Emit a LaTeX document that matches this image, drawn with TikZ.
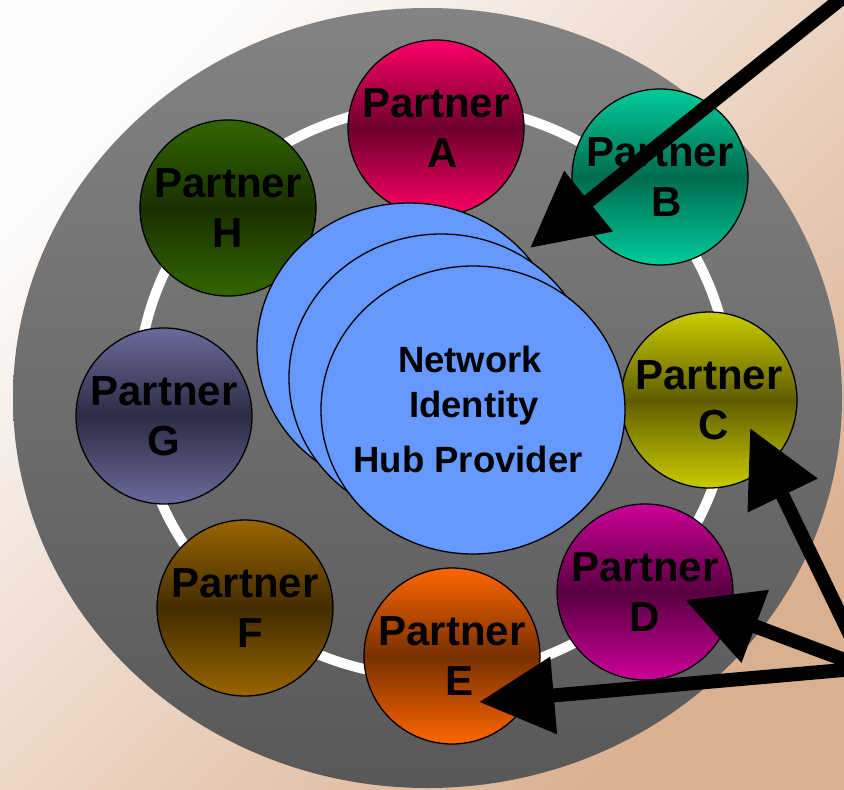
\documentclass[tikz,border=0pt]{standalone}
\usepackage{fontspec}
\setmainfont{Liberation Sans}
\usetikzlibrary{shapes.geometric,arrows.meta,calc}
\definecolor{bgA}{HTML}{FCFBFA}
\definecolor{bgB}{HTML}{DBB08F}
\definecolor{grayTop}{HTML}{838383}
\definecolor{grayBot}{HTML}{585858}
\definecolor{hubBlue}{HTML}{6699FF}
\definecolor{Abr}{HTML}{FF0066}\definecolor{Adk}{HTML}{6E002E}
\definecolor{Bbr}{HTML}{00CC99}\definecolor{Bdk}{HTML}{006B50}
\definecolor{Cbr}{HTML}{CCCC00}\definecolor{Cdk}{HTML}{5E5E00}
\definecolor{Dbr}{HTML}{CC0099}\definecolor{Ddk}{HTML}{580040}
\definecolor{Ebr}{HTML}{FF6600}\definecolor{Edk}{HTML}{773000}
\definecolor{Fbr}{HTML}{996600}\definecolor{Fdk}{HTML}{432C00}
\definecolor{Gbr}{HTML}{6A6A9C}\definecolor{Gdk}{HTML}{2C2C44}
\definecolor{Hbr}{HTML}{336600}\definecolor{Hdk}{HTML}{183000}
\begin{document}
\begin{tikzpicture}[x=1pt,y=-1pt,
  partner/.style={circle, draw=black, line width=1.3pt, minimum size=176pt,
    inner sep=0pt, align=center, font=\fontsize{42}{50}\selectfont\bfseries},
  hub/.style={ellipse, draw=black, line width=1.3pt, fill=hubBlue,
    minimum width=304pt, minimum height=288pt, inner sep=0pt},
  hubtxt/.style={anchor=base, inner sep=0pt, font=\fontsize{36.5}{44}\selectfont\bfseries},
  bigarrow/.style={line width=14pt, draw=black, -{Triangle[length=75pt,width=74pt]}},
]
\useasboundingbox (0,0) rectangle (844,790);
\clip (0,0) rectangle (844,790);
\shade[top color=bgA, bottom color=bgB, shading angle=45] (0,0) rectangle (844,790);

\node[ellipse, minimum width=829pt, minimum height=780pt, inner sep=0pt,
      top color=grayTop, bottom color=grayBot] (disc) at (427.5,398) {};
\node[ellipse, draw=white, line width=10pt, minimum width=592pt,
      minimum height=572pt, inner sep=0pt] (ring) at (434,391) {};

\node[partner, top color=Abr, bottom color=Abr, middle color=Adk] (pA) at (436,128) {Partner\\\hspace*{14pt}A};
\node[partner, top color=Bbr, bottom color=Bbr, middle color=Bdk] (pB) at (660,177) {Partner\\\hspace*{14pt}B};
\node[partner, top color=Cbr, bottom color=Cbr, middle color=Cdk] (pC) at (709,400) {Partner\\\hspace*{10pt}C};
\node[partner, top color=Dbr, bottom color=Dbr, middle color=Ddk] (pD) at (645,592) {Partner\\D};
\node[partner, top color=Ebr, bottom color=Ebr, middle color=Edk] (pE) at (452,656) {Partner\\\hspace*{16pt}E};
\node[partner, top color=Fbr, bottom color=Fbr, middle color=Fdk] (pF) at (245,608) {Partner\\\hspace*{10pt}F};
\node[partner, top color=Gbr, bottom color=Gbr, middle color=Gdk] (pG) at (164,416) {Partner\\G};
\node[partner, top color=Hbr, bottom color=Hbr, middle color=Hdk] (pH) at (228,208) {Partner\\H};

\node[hub] (hub1) at (409,347) {};
\node[hubtxt] (hub1a) at ($(hub1.center)+(-3,-38)$) {Network};
\node[hubtxt] (hub1b) at ($(hub1.center)+(1,7)$) {Identity};
\node[hubtxt] (hub1c) at ($(hub1.center)+(-5,62)$) {Hub Provider};

\node[hub] (hub2) at (441,378) {};
\node[hubtxt] (hub2a) at ($(hub2.center)+(-3,-38)$) {Network};
\node[hubtxt] (hub2b) at ($(hub2.center)+(1,7)$) {Identity};
\node[hubtxt] (hub2c) at ($(hub2.center)+(-5,62)$) {Hub Provider};

\node[hub] (hub3) at (473,410) {};
\node[hubtxt] (hub3a) at ($(hub3.center)+(-3,-38)$) {Network};
\node[hubtxt] (hub3b) at ($(hub3.center)+(1,7)$) {Identity};
\node[hubtxt] (hub3c) at ($(hub3.center)+(-5,62)$) {Hub Provider};

\coordinate (srcTR) at (852,-10);
\coordinate (srcR) at (866,668);
\coordinate (tipHub) at (530,248);
\coordinate (tipC) at (750,428);
\coordinate (tipD) at (685,600);
\coordinate (tipE) at (479,702);

\draw[bigarrow] (srcTR) -- (tipHub);
\draw[bigarrow] (srcR) -- (tipC);
\draw[bigarrow] (srcR) -- (tipD);
\draw[bigarrow] (srcR) -- (tipE);
\end{tikzpicture}
\end{document}
